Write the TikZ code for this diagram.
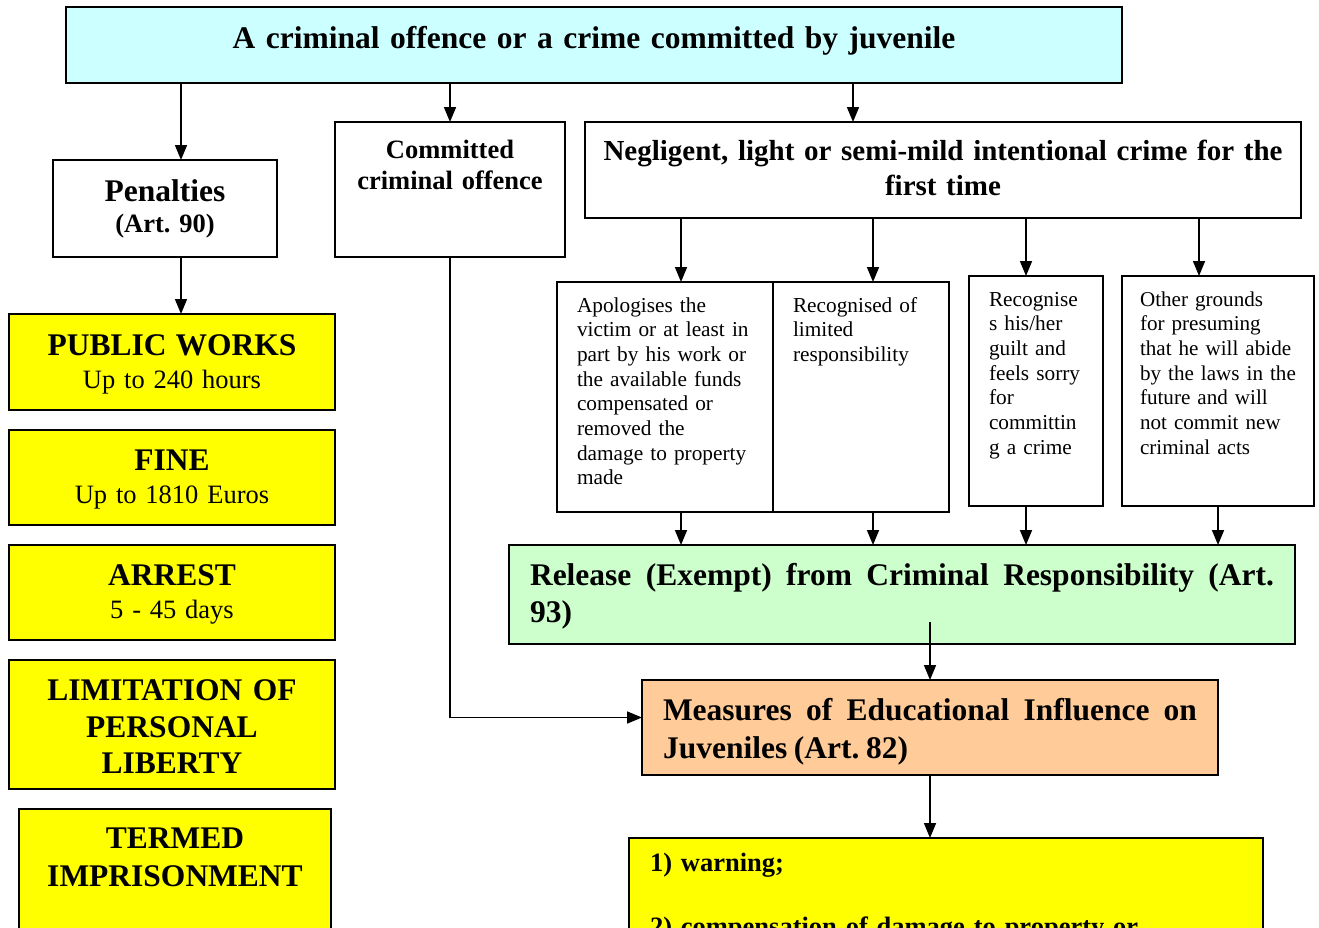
\documentclass[tikz,border=0pt]{standalone}
\usepackage{fontspec}
\setmainfont{Liberation Serif}
\usetikzlibrary{positioning}
\usetikzlibrary{arrows.meta}
\definecolor{crimecyan}{RGB}{204,255,255}
\definecolor{releasegreen}{RGB}{204,255,204}
\definecolor{measpeach}{RGB}{255,204,153}
\definecolor{penyellow}{RGB}{255,255,0}
\newcommand{\tightsp}{\fontdimen2\font=0.21\fontdimen6\font}
\frenchspacing

\begin{document}
\begin{tikzpicture}[
            x = 1pt, y = -1pt, % one unit per pixel, y going down
            > = {Triangle[length=15pt, width=12pt]}, % arrow head style
            line width = 1.6pt, % line style
            box/.style = {draw, anchor=north west, outer sep=0pt, inner xsep=0pt, inner ysep=0pt, align=center},
            boxdim/.style n args = {3}{text width=#1, text height=#2, text depth=#3},
            pad/.style = {inner xsep=#1}
        ]

        \useasboundingbox[fill=white] (0,0) rectangle (1319,927);
        \clip (0,0) rectangle (1319,927);

        % top level
        \node[box, fill=crimecyan, boxdim={1056pt}{41.5pt}{34.5pt}, font=\fontsize{31.5}{36}\selectfont\bfseries\tightsp] (title) at (66,7) {A criminal offence or a crime committed by juvenile};

        \node[box, boxdim={224pt}{41.5pt}{55.5pt}, font=\fontsize{26.5}{31}\selectfont\bfseries\tightsp] (pen) at (53,160) {{\fontsize{31.5}{31}\selectfont Penalties}\\(Art. 90)};
        \node[box, boxdim={230pt}{36.7pt}{98.3pt}, font=\fontsize{26.5}{31}\selectfont\bfseries] (com) at (335,122) {Committed\\criminal offence};
        \node[box, boxdim={716pt}{38.6pt}{57.4pt}, font=\fontsize{29}{35}\selectfont\bfseries\tightsp] (neg) at (585,122) {Negligent, light or semi-mild intentional crime for the\\first time};

        \draw[->] ([xshift=16pt]pen.north |- title.south) -- ([xshift=16pt]pen.north);
        \draw[->] (com.north |- title.south) -- (com.north);
        \draw[->] ([xshift=-90pt]neg.north |- title.south) -- ([xshift=-90pt]neg.north);

        % penalties
        \node[box, fill=penyellow, boxdim={326pt}{41.5pt}{54.5pt}, font=\fontsize{26.5}{32.5}\selectfont\tightsp] (pw) at (9,314) {{\fontsize{31.5}{32.5}\selectfont\bfseries PUBLIC WORKS}\\Up to 240 hours};
        \node[box, fill=penyellow, boxdim={326pt}{40.5pt}{54.5pt}, font=\fontsize{26.5}{32.5}\selectfont, below=20pt of pw] (fine) {{\fontsize{31.5}{32.5}\selectfont\bfseries FINE}\\Up to 1810 Euros};
        \node[box, fill=penyellow, boxdim={326pt}{40.5pt}{54.5pt}, font=\fontsize{26.5}{32.5}\selectfont, below=20pt of fine] (arrest) {{\fontsize{31.5}{32.5}\selectfont\bfseries ARREST}\\5 - 45 days};
        \node[box, fill=penyellow, boxdim={326pt}{40.5pt}{88.5pt}, font=\fontsize{31.5}{36.5}\selectfont\bfseries, below=20pt of arrest] (lim) {LIMITATION OF\\PERSONAL\\LIBERTY};
        \node[box, fill=penyellow, boxdim={312pt}{39.5pt}{140pt}, font=\fontsize{31.5}{38}\selectfont\bfseries, below=20pt of lim, xshift=3pt] (term) {TERMED\\IMPRISONMENT};

        \draw[->] ([xshift=16pt]pen.south) -- ([xshift=16pt]pen.south |- pw.north);

        % grounds for release
        \node[box, pad=20pt, align=left, boxdim={176pt}{30pt}{200pt}, font=\fontsize{21.3}{24.7}\selectfont] (apol) at (557,282) {Apologises the\\victim or at least in\\part by his work or\\the available funds\\compensated or\\removed the\\damage to property\\made};
        \node[box, pad=20pt, align=left, boxdim={136pt}{30pt}{200pt}, font=\fontsize{21.3}{24.7}\selectfont, right=0pt of apol] (limresp) {Recognised of\\limited\\responsibility};
        \node[box, pad=20pt, align=left, boxdim={94pt}{30pt}{200pt}, font=\fontsize{21.3}{24.7}\selectfont] (guilt) at (969,276) {Recognise\\s his/her\\guilt and\\feels sorry\\for\\committin\\g a crime};
        \node[box, pad=18pt, align=left, boxdim={156pt}{30pt}{200pt}, font=\fontsize{21.1}{24.7}\selectfont] (other) at (1122,276) {Other grounds\\for presuming\\that he will abide\\by the laws in the\\future and will\\not commit new\\criminal acts};

        \draw[->] ([xshift=16pt]apol.north |- neg.south) -- ([xshift=16pt]apol.north);
        \draw[->] ([xshift=12pt]limresp.north |- neg.south) -- ([xshift=12pt]limresp.north);
        \draw[->] ([xshift=-10pt]guilt.north |- neg.south) -- ([xshift=-10pt]guilt.north);
        \draw[->] ([xshift=-19pt]other.north |- neg.south) -- ([xshift=-19pt]other.north);

        % release and measures
        \node[box, fill=releasegreen, pad=21pt, align=justify, boxdim={744pt}{40.5pt}{58.5pt}, font=\fontsize{31.5}{37}\selectfont\bfseries] (rel) at (509,545) {Release (Exempt) from Criminal Responsibility (Art.\linebreak 93)};
        \node[box, fill=measpeach, pad=21pt, align=justify, boxdim={534pt}{40.4pt}{54.6pt}, font=\fontsize{31.5}{38}\selectfont\bfseries] (meas) at (642,680) {Measures of Educational Influence on\linebreak Juveniles (Art. 82)};
        \node[box, fill=penyellow, pad=21pt, align=left, boxdim={592pt}{33.7pt}{140pt}, font=\fontsize{26.5}{30}\selectfont\bfseries] (warn) at (629,838) {1) warning;\\[34pt]2) compensation of damage to property or};

        \draw[->] ([xshift=16pt]apol.south) -- ([xshift=16pt]apol.south |- rel.north);
        \draw[->] ([xshift=12pt]limresp.south) -- ([xshift=12pt]limresp.south |- rel.north);
        \draw[->] ([xshift=-10pt]guilt.south) -- ([xshift=-10pt]guilt.south |- rel.north);
        \draw[->] (other.south) -- (other.south |- rel.north);

        \draw[->] ([yshift=22pt]rel.south -| meas.north) -- (meas.north);
        \draw[->] (com.south) |- ([yshift=10pt]meas.west);
        \draw[->] (meas.south) -- (meas.south |- warn.north);

\end{tikzpicture}
\end{document}
